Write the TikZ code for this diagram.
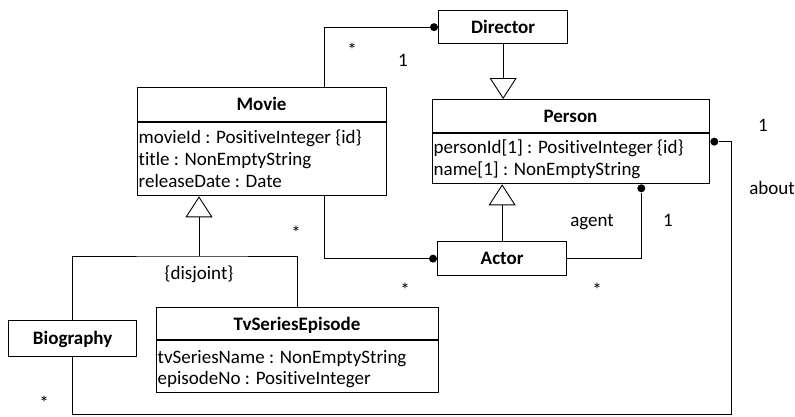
\documentclass[tikz,border=0pt]{standalone}
\usepackage{fontspec}
\setmainfont{Carlito}[Ligatures=NoCommon]
\usetikzlibrary{arrows.meta}
\begin{document}
\begin{tikzpicture}[x=1pt,y=-1pt,
  cls/.style={draw, line width=1.3pt, inner sep=0pt, anchor=north west},
  divider/.style={line width=1.3pt},
  conn/.style={line width=0.9pt},
  gen/.style={conn, -{Triangle[open, length=21pt, width=27pt]}},
  clsname/.style={font=\bfseries\fontsize{19}{23}\selectfont, text height=12pt, text depth=0pt, inner sep=0pt},
  attr/.style={font=\fontsize{19}{23}\selectfont, anchor=base west, inner sep=0pt},
  lbl/.style={font=\fontsize{19}{23}\selectfont, text height=12pt, text depth=0pt, inner sep=0pt},
  enddot/.style={circle, fill, inner sep=0pt, minimum size=8pt},
]
\useasboundingbox (0,0) rectangle (795,416);

% class boxes
\node[cls, minimum width=129pt, minimum height=33pt] (director) at (438,10) {};
\node[cls, minimum width=249pt, minimum height=108pt] (movie) at (137,87) {};
\node[cls, minimum width=277pt, minimum height=84pt] (person) at (432,99) {};
\node[cls, minimum width=129pt, minimum height=34pt] (actor) at (437,241) {};
\node[cls, minimum width=128pt, minimum height=36pt] (biography) at (8,320) {};
\node[cls, minimum width=282pt, minimum height=85pt] (tvse) at (156,307) {};

% compartment dividers
\draw[divider] (137,122) -- (386,122);
\draw[divider] (432,133) -- (709,133);
\draw[divider] (156,340) -- (438,340);

% class names
\node[clsname] (director-name) at (director.center) {Director};
\node[clsname] (movie-name) at (261.5,104.5) {Movie};
\node[clsname] (person-name) at (570.5,116) {Person};
\node[clsname] (actor-name) at (actor.center) {Actor};
\node[clsname] (biography-name) at (biography.center) {Biography};
\node[clsname] (tvse-name) at (297,324) {TvSeriesEpisode};

% attributes
\node[attr] (movie-a1) at (138.5,143) {movieId : PositiveInteger \{id\}};
\node[attr] (movie-a2) at (138.5,165) {title : NonEmptyString};
\node[attr] (movie-a3) at (138.5,187) {releaseDate : Date};
\node[attr] (person-a1) at (433.5,153) {personId[1] : PositiveInteger \{id\}};
\node[attr] (person-a2) at (433.5,175) {name[1] : NonEmptyString};
\node[attr] (tvse-a1) at (157.5,363) {tvSeriesName : NonEmptyString};
\node[attr] (tvse-a2) at (157.5,384) {episodeNo : PositiveInteger};

% association ends
\node[enddot] (ddot) at ([xshift=-4pt]director.west) {};
\node[enddot] (adot) at ([xshift=-4pt]actor.west) {};
\node[enddot] (pdot) at ([xshift=-69pt,yshift=-4pt]person.south east) {};
\node[enddot] (qdot) at ([xshift=4pt]person.east) {};

% generalizations
\draw[gen] (director.south) -- (director.south |- person.north);
\draw[gen] (actor.north) -- (actor.north |- person.south);
\coordinate (gj) at (199,256);
\draw[gen] (gj) -- (gj |- movie.south);
\draw[conn] (biography.north) |- (gj) -| (tvse.north);

% associations
\draw[conn] ([xshift=62.5pt]movie.north) |- (ddot);
\draw[conn] ([xshift=62.5pt]movie.south) |- (adot);
\draw[conn] (actor.east) -| (pdot);
\coordinate (about-corner) at (731,414);
\draw[conn] (qdot) -| (about-corner) -| (biography.south);

% multiplicities and role names
\node[lbl] (m-movie-dir) at (352,50) {*};
\node[lbl] (m-dir) at (403,60) {1};
\node[lbl] (m-about-person) at (763,125) {1};
\node[lbl] (r-about) at (772,188) {about};
\node[lbl] (r-agent) at (592,220) {agent};
\node[lbl] (m-agent) at (668,220) {1};
\node[lbl] (m-movie-actor) at (296,233) {*};
\node[lbl] (m-actor-movie) at (405,290) {*};
\node[lbl] (m-actor-person) at (597,290) {*};
\node[lbl] (m-biography) at (44,403) {*};
\node[lbl] (disjoint) at (199,273) {\{disjoint\}};
\end{tikzpicture}
\end{document}
